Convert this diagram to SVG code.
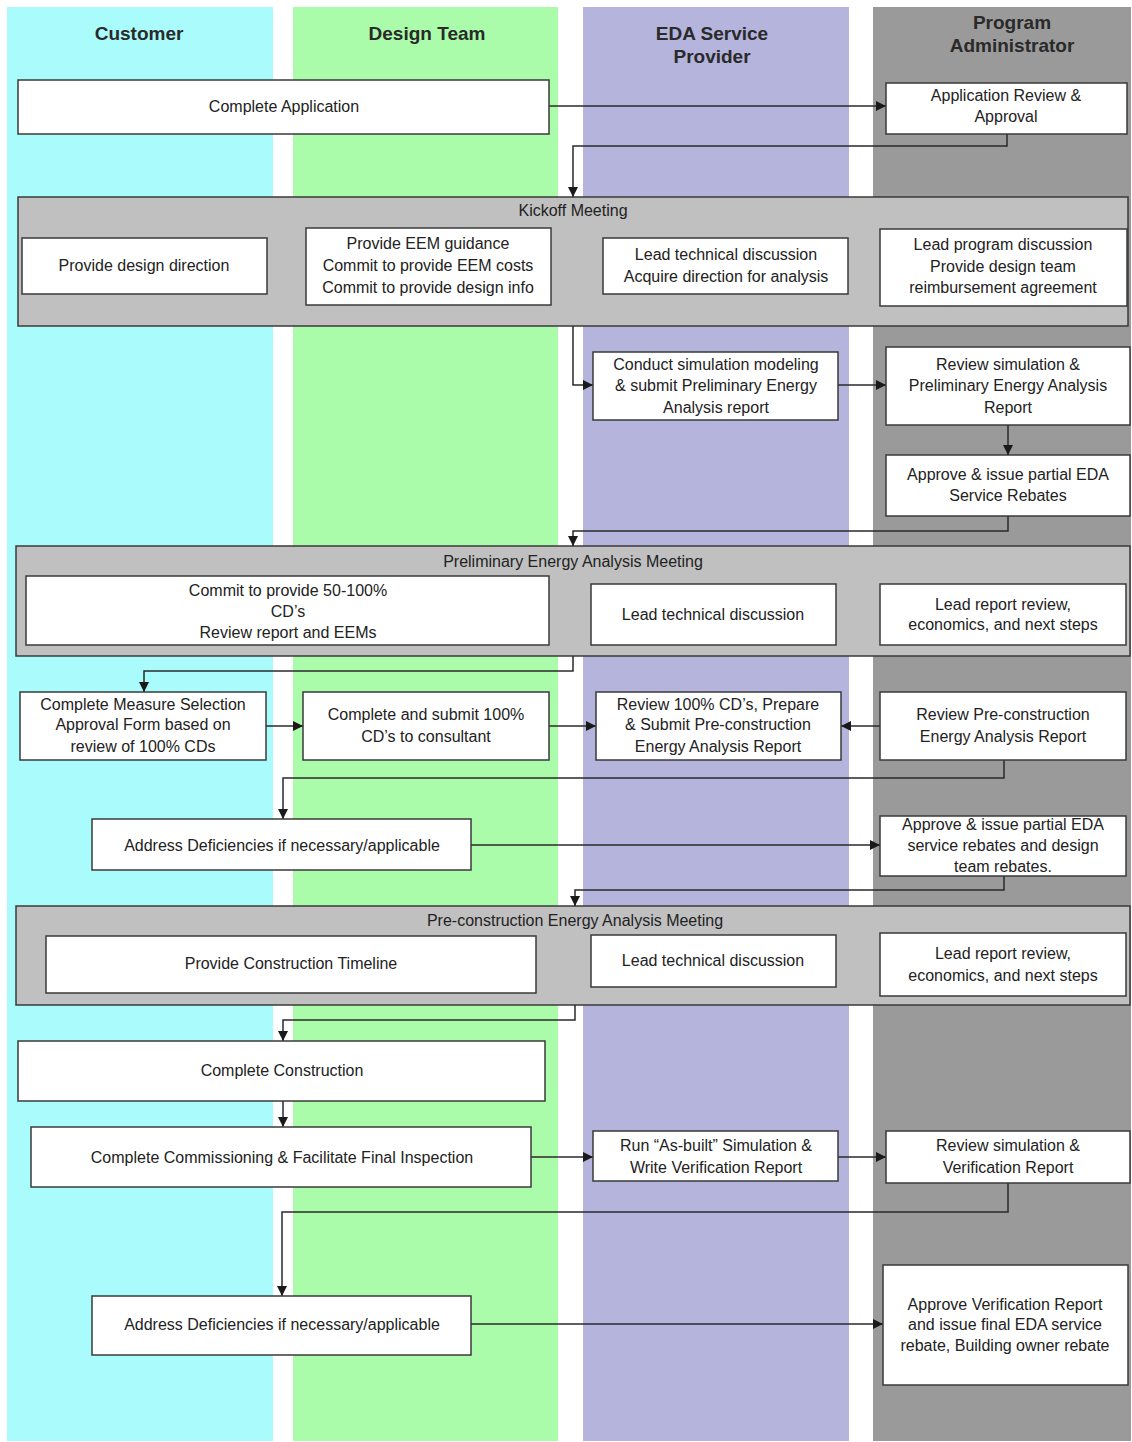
<svg xmlns="http://www.w3.org/2000/svg" width="1132" height="1442" viewBox="0 0 1132 1442">
<style>
.lane{stroke:none}
.hdr{font-family:"Liberation Sans",Arial,sans-serif;font-size:19px;font-weight:bold;fill:#2a2a2a;text-anchor:middle}
.meet{fill:#c0c0c0;stroke:#3a3a3a;stroke-width:1.5}
.box{fill:#ffffff;stroke:#3a3a3a;stroke-width:1.5}
.t{font-family:"Liberation Sans",Arial,sans-serif;font-size:16px;fill:#222;text-anchor:middle;dominant-baseline:central}
.c{fill:none;stroke:#2a2a2a;stroke-width:1.5;marker-end:url(#ah)}
</style>
<defs>
<marker id="ah" markerUnits="userSpaceOnUse" markerWidth="10" markerHeight="10" viewBox="0 0 10 10" refX="10" refY="5" orient="auto">
<path d="M0,0 L10,5 L0,10 Z" fill="#1a1a1a"/>
</marker>
</defs>
<rect width="1132" height="1442" fill="#ffffff"/>
<g id="lanes">
<rect class="lane" x="7" y="7" width="266" height="1434" fill="#aafcfc"/>
<rect class="lane" x="293" y="7" width="265" height="1434" fill="#aafcaa"/>
<rect class="lane" x="583" y="7" width="266" height="1434" fill="#b4b4dc"/>
<rect class="lane" x="873" y="7" width="258" height="1434" fill="#9a9a9a"/>
<text class="hdr" x="139" y="40">Customer</text>
<text class="hdr" x="427" y="40">Design Team</text>
<text class="hdr" x="712" y="40">EDA Service</text>
<text class="hdr" x="712" y="63">Provider</text>
<text class="hdr" x="1012" y="29">Program</text>
<text class="hdr" x="1012" y="52">Administrator</text>
</g>

<g id="meeting-kickoff">
<rect class="meet" x="18" y="197" width="1110" height="129"/>
<text class="t" x="573" y="210">Kickoff Meeting</text>
</g>
<g id="meeting-prelim">
<rect class="meet" x="16" y="546" width="1114" height="110"/>
<text class="t" x="573" y="561">Preliminary Energy Analysis Meeting</text>
</g>
<g id="meeting-precon">
<rect class="meet" x="16" y="906" width="1114" height="99"/>
<text class="t" x="575" y="920">Pre-construction Energy Analysis Meeting</text>
</g>

<g id="connectors">
<path class="c" d="M549,106 H886"/>
<path class="c" d="M1007,134 V146 H573 V197"/>
<path class="c" d="M573,326 V385 H593"/>
<path class="c" d="M838,385 H886"/>
<path class="c" d="M1008,425 V455"/>
<path class="c" d="M1008,516 V531 H573 V546"/>
<path class="c" d="M573,656 V671 H144 V692"/>
<path class="c" d="M266,726 H303"/>
<path class="c" d="M549,726 H596"/>
<path class="c" d="M880,726 H841"/>
<path class="c" d="M1004,760 V778 H283 V819"/>
<path class="c" d="M471,845 H880"/>
<path class="c" d="M1004,876 V890 H575 V906"/>
<path class="c" d="M575,1005 V1020 H283 V1041"/>
<path class="c" d="M283,1101 V1127"/>
<path class="c" d="M531,1157 H593"/>
<path class="c" d="M838,1157 H886"/>
<path class="c" d="M1008,1183 V1212 H282 V1296"/>
<path class="c" d="M471,1324 H883"/>
</g>

<g id="n-complete-application">
<rect class="box" x="18" y="80" width="531" height="54"/>
<text class="t" x="284" y="106">Complete Application</text>
</g>
<g id="n-app-review">
<rect class="box" x="886" y="83" width="241" height="51"/>
<text class="t" x="1006" y="95">Application Review &amp;</text>
<text class="t" x="1006" y="116">Approval</text>
</g>

<g id="n-design-direction">
<rect class="box" x="22" y="238" width="245" height="56"/>
<text class="t" x="144" y="265">Provide design direction</text>
</g>
<g id="n-eem-guidance">
<rect class="box" x="306" y="228" width="245" height="77"/>
<text class="t" x="428" y="243">Provide EEM guidance</text>
<text class="t" x="428" y="265">Commit to provide EEM costs</text>
<text class="t" x="428" y="287">Commit to provide design info</text>
</g>
<g id="n-lead-tech-1">
<rect class="box" x="603" y="238" width="245" height="56"/>
<text class="t" x="726" y="254">Lead technical discussion</text>
<text class="t" x="726" y="276">Acquire direction for analysis</text>
</g>
<g id="n-lead-program">
<rect class="box" x="880" y="229" width="247" height="77"/>
<text class="t" x="1003" y="244">Lead program discussion</text>
<text class="t" x="1003" y="266">Provide design team</text>
<text class="t" x="1003" y="287">reimbursement agreement</text>
</g>

<g id="n-conduct-sim">
<rect class="box" x="593" y="352" width="245" height="68"/>
<text class="t" x="716" y="364">Conduct simulation modeling</text>
<text class="t" x="716" y="385">&amp; submit Preliminary Energy</text>
<text class="t" x="716" y="407">Analysis  report</text>
</g>
<g id="n-review-sim-1">
<rect class="box" x="886" y="347" width="244" height="78"/>
<text class="t" x="1008" y="364">Review simulation &amp;</text>
<text class="t" x="1008" y="385">Preliminary Energy Analysis</text>
<text class="t" x="1008" y="407">Report</text>
</g>
<g id="n-approve-partial-1">
<rect class="box" x="886" y="455" width="244" height="61"/>
<text class="t" x="1008" y="474">Approve &amp; issue partial EDA</text>
<text class="t" x="1008" y="495">Service Rebates</text>
</g>

<g id="n-commit-cds">
<rect class="box" x="26" y="576" width="523" height="69"/>
<text class="t" x="288" y="590">Commit to provide 50-100%</text>
<text class="t" x="288" y="611">CD’s</text>
<text class="t" x="288" y="632">Review report and EEMs</text>
</g>
<g id="n-lead-tech-2">
<rect class="box" x="591" y="584" width="245" height="61"/>
<text class="t" x="713" y="614">Lead technical discussion</text>
</g>
<g id="n-lead-report-1">
<rect class="box" x="880" y="584" width="246" height="61"/>
<text class="t" x="1003" y="604">Lead report review,</text>
<text class="t" x="1003" y="624">economics, and next steps</text>
</g>

<g id="n-measure-selection">
<rect class="box" x="20" y="692" width="246" height="68"/>
<text class="t" x="143" y="704">Complete Measure Selection</text>
<text class="t" x="143" y="724">Approval Form based on</text>
<text class="t" x="143" y="746">review of 100% CDs</text>
</g>
<g id="n-submit-cds">
<rect class="box" x="303" y="692" width="246" height="68"/>
<text class="t" x="426" y="714">Complete and submit 100%</text>
<text class="t" x="426" y="736">CD’s to consultant</text>
</g>
<g id="n-review-cds">
<rect class="box" x="596" y="692" width="245" height="68"/>
<text class="t" x="718" y="704">Review 100% CD’s, Prepare</text>
<text class="t" x="718" y="724">&amp; Submit Pre-construction</text>
<text class="t" x="718" y="746">Energy Analysis Report</text>
</g>
<g id="n-review-precon">
<rect class="box" x="880" y="692" width="246" height="68"/>
<text class="t" x="1003" y="714">Review Pre-construction</text>
<text class="t" x="1003" y="736">Energy Analysis Report</text>
</g>

<g id="n-address-def-1">
<rect class="box" x="92" y="819" width="379" height="51"/>
<text class="t" x="282" y="845">Address Deficiencies if necessary/applicable</text>
</g>
<g id="n-approve-partial-2">
<rect class="box" x="880" y="816" width="246" height="60"/>
<text class="t" x="1003" y="824">Approve &amp; issue partial EDA</text>
<text class="t" x="1003" y="845">service rebates and design</text>
<text class="t" x="1003" y="866">team rebates.</text>
</g>

<g id="n-construction-timeline">
<rect class="box" x="46" y="936" width="490" height="57"/>
<text class="t" x="291" y="963">Provide Construction Timeline</text>
</g>
<g id="n-lead-tech-3">
<rect class="box" x="591" y="935" width="245" height="52"/>
<text class="t" x="713" y="960">Lead technical discussion</text>
</g>
<g id="n-lead-report-2">
<rect class="box" x="880" y="933" width="246" height="63"/>
<text class="t" x="1003" y="953">Lead report review,</text>
<text class="t" x="1003" y="975">economics, and next steps</text>
</g>

<g id="n-complete-construction">
<rect class="box" x="18" y="1041" width="527" height="60"/>
<text class="t" x="282" y="1070">Complete Construction</text>
</g>
<g id="n-commissioning">
<rect class="box" x="31" y="1127" width="500" height="60"/>
<text class="t" x="282" y="1157">Complete Commissioning &amp; Facilitate Final Inspection</text>
</g>
<g id="n-as-built">
<rect class="box" x="593" y="1131" width="245" height="50"/>
<text class="t" x="716" y="1145">Run “As-built” Simulation &amp;</text>
<text class="t" x="716" y="1167">Write Verification Report</text>
</g>
<g id="n-review-sim-2">
<rect class="box" x="886" y="1131" width="244" height="52"/>
<text class="t" x="1008" y="1145">Review simulation &amp;</text>
<text class="t" x="1008" y="1167">Verification Report</text>
</g>

<g id="n-address-def-2">
<rect class="box" x="92" y="1296" width="379" height="59"/>
<text class="t" x="282" y="1324">Address Deficiencies if necessary/applicable</text>
</g>
<g id="n-approve-final">
<rect class="box" x="883" y="1265" width="245" height="120"/>
<text class="t" x="1005" y="1304">Approve Verification Report</text>
<text class="t" x="1005" y="1324">and issue final EDA service</text>
<text class="t" x="1005" y="1345">rebate, Building owner rebate</text>
</g>
</svg>
